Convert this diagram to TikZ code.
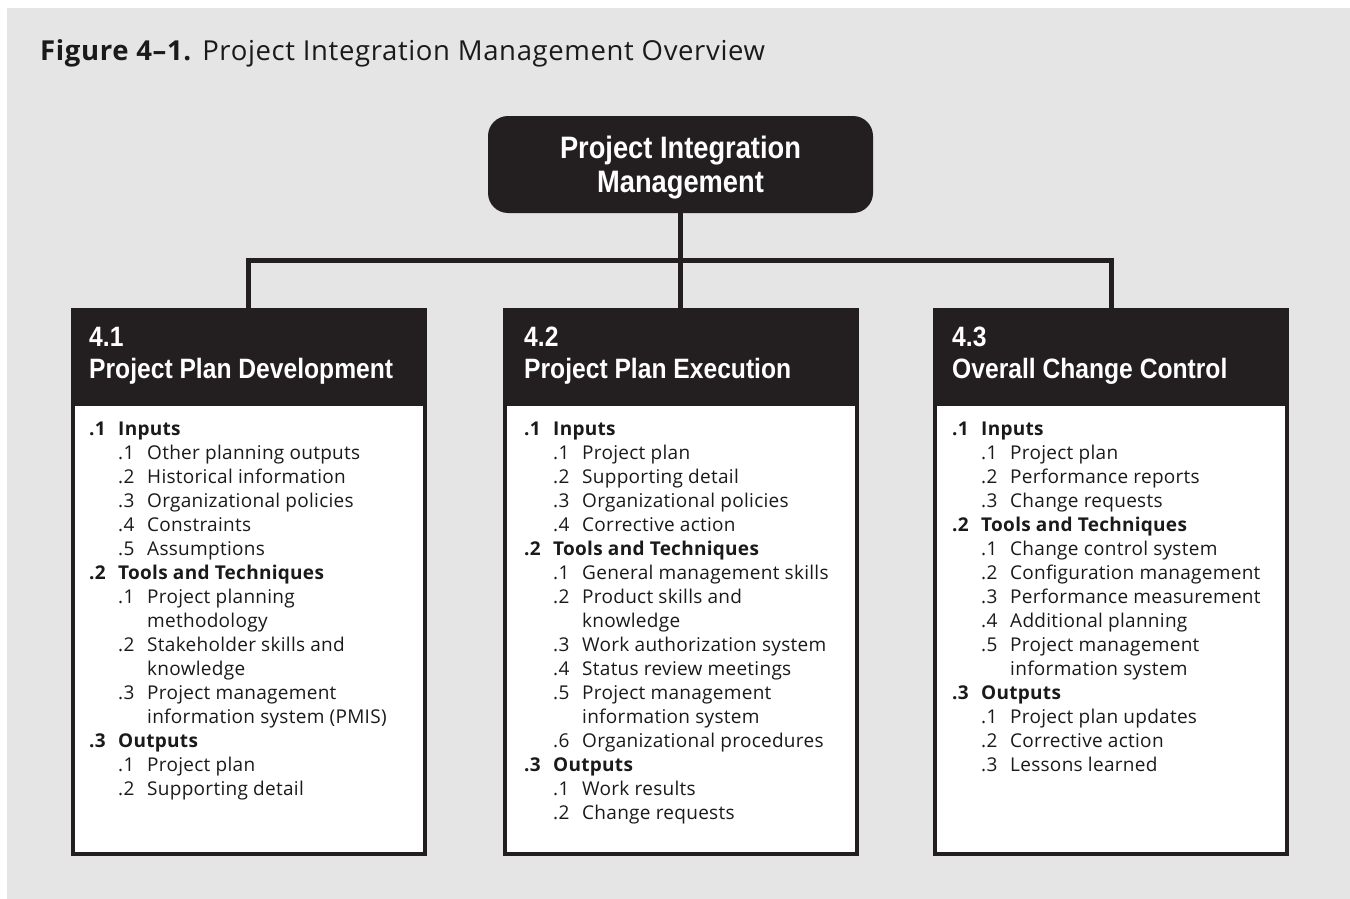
\documentclass[tikz,border=0pt]{standalone}
\usepackage{fontspec}
\setmainfont{Open Sans}[LetterSpace=1.5]
\newfontfamily\titlefont{Open Sans}[LetterSpace=2.3]
\newfontfamily\condfont[FakeStretch=0.88]{Liberation Sans}
\definecolor{dark}{HTML}{231F20}
\definecolor{bg}{HTML}{E5E5E5}
\definecolor{ink}{HTML}{1A1A1A}
\newcommand\hdl[2]{\makebox[29pt][l]{\bfseries #1}\textbf{#2}}
\newcommand\itm[2]{\hspace*{29pt}\makebox[29pt][l]{#1}#2}
\newcommand\cnt[1]{\hspace*{58pt}#1}
\tikzset{
  topbox/.style={fill=dark, rounded corners=20pt, minimum width=385, minimum height=97, inner sep=0},
  toptext/.style={inner sep=0, text=white, align=center, font=\condfont\bfseries\fontsize{31}{34}\selectfont},
  boxstyle/.style={draw=dark, line width=4, fill=white, minimum width=352, minimum height=544, inner sep=0},
  headstyle/.style={fill=dark, minimum width=356, minimum height=98, inner sep=0},
  headtext/.style={anchor=north west, inner sep=0, text=white, align=left, font=\condfont\bfseries\fontsize{28}{32}\selectfont},
  listtext/.style={anchor=north west, inner sep=0, text=ink, align=left, font=\fontsize{19}{24}\selectfont},
  conn/.style={draw=dark, line width=5}
}
\begin{document}
\begin{tikzpicture}[x=1pt,y=-1pt]
\useasboundingbox (0,0) rectangle (1350,899);
\fill[bg] (7,8) rectangle (1350,899);
\node[anchor=base west, inner sep=0, text=ink, font=\titlefont\fontsize{27.5}{30}\selectfont] (title) at (40,61) {\textbf{Figure 4–1.} Project Integration Management Overview};
\node[topbox] (top) at (680.5,164.5) {};
\node[toptext] (topt) at (680.5,168) {Project Integration\\Management};
\node[boxstyle] (box1) at (248.7,582) {};
\node[boxstyle] (box2) at (681,582) {};
\node[boxstyle] (box3) at (1111.3,582) {};
\node[headstyle, anchor=north] (h1) at (box1.north) {};
\node[headstyle, anchor=north] (h2) at (box2.north) {};
\node[headstyle, anchor=north] (h3) at (box3.north) {};
\draw[conn] (top.south) -- (top.south |- h2.north);
\draw[conn] (h1.north) -- ++(0,-48) -| (h3.north);
\node[headtext] (h1t) at (89,327) {4.1\\Project Plan Development};
\node[headtext] (h2t) at (524,327) {4.2\\Project Plan Execution};
\node[headtext] (h3t) at (952,327) {4.3\\Overall Change Control};
\node[listtext] (l1) at (89,421.5) {%
\hdl{.1}{Inputs}\\
\itm{.1}{Other planning outputs}\\
\itm{.2}{Historical information}\\
\itm{.3}{Organizational policies}\\
\itm{.4}{Constraints}\\
\itm{.5}{Assumptions}\\
\hdl{.2}{Tools and Techniques}\\
\itm{.1}{Project planning}\\
\cnt{methodology}\\
\itm{.2}{Stakeholder skills and}\\
\cnt{knowledge}\\
\itm{.3}{Project management}\\
\cnt{information system (PMIS)}\\
\hdl{.3}{Outputs}\\
\itm{.1}{Project plan}\\
\itm{.2}{Supporting detail}};
\node[listtext] (l2) at (524,421.5) {%
\hdl{.1}{Inputs}\\
\itm{.1}{Project plan}\\
\itm{.2}{Supporting detail}\\
\itm{.3}{Organizational policies}\\
\itm{.4}{Corrective action}\\
\hdl{.2}{Tools and Techniques}\\
\itm{.1}{General management skills}\\
\itm{.2}{Product skills and}\\
\cnt{knowledge}\\
\itm{.3}{Work authorization system}\\
\itm{.4}{Status review meetings}\\
\itm{.5}{Project management}\\
\cnt{information system}\\
\itm{.6}{Organizational procedures}\\
\hdl{.3}{Outputs}\\
\itm{.1}{Work results}\\
\itm{.2}{Change requests}};
\node[listtext] (l3) at (952,421.5) {%
\hdl{.1}{Inputs}\\
\itm{.1}{Project plan}\\
\itm{.2}{Performance reports}\\
\itm{.3}{Change requests}\\
\hdl{.2}{Tools and Techniques}\\
\itm{.1}{Change control system}\\
\itm{.2}{Configuration management}\\
\itm{.3}{Performance measurement}\\
\itm{.4}{Additional planning}\\
\itm{.5}{Project management}\\
\cnt{information system}\\
\hdl{.3}{Outputs}\\
\itm{.1}{Project plan updates}\\
\itm{.2}{Corrective action}\\
\itm{.3}{Lessons learned}};
\end{tikzpicture}
\end{document}
